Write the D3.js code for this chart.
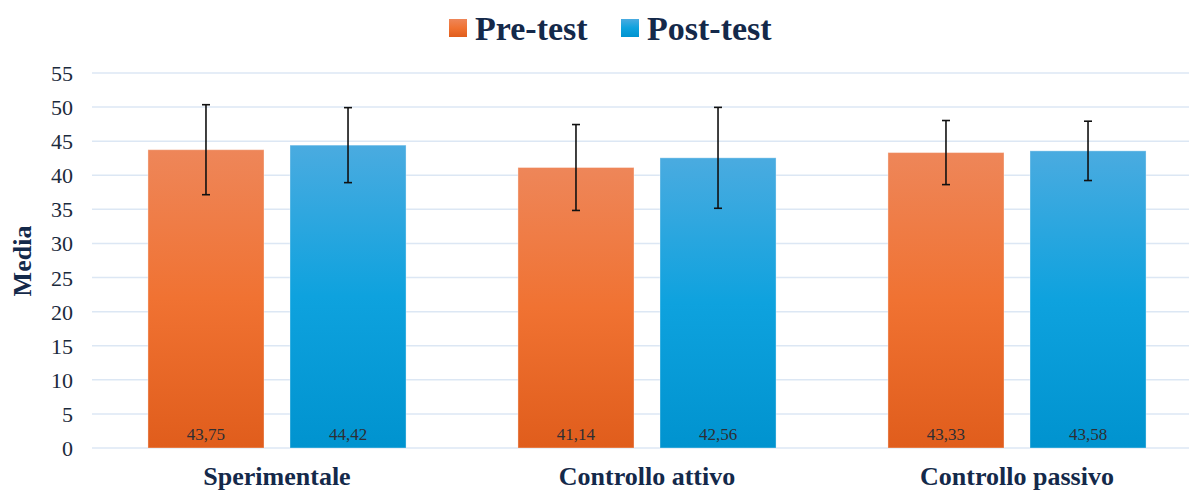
<!DOCTYPE html>
<html>
<head>
<meta charset="utf-8">
<script src="https://cdn.jsdelivr.net/npm/d3@7"></script>
<style>
  html, body { margin: 0; padding: 0; background: #fff; }
  svg { display: block; }
  svg text { font-family: "Liberation Serif", "Times New Roman", serif; }
</style>
</head>
<body>
<svg id="chart" width="1189" height="492"></svg>
<script>
// Data
const categories = ["Sperimentale", "Controllo attivo", "Controllo passivo"];
const series = ["Pre-test", "Post-test"];
const preMeans = [43.75, 41.14, 43.33];
const postMeans = [44.42, 42.56, 43.58];
const preSD = [6.6, 6.3, 4.7];
const postSD = [5.5, 7.4, 4.35];
const yTicks = [0, 5, 10, 15, 20, 25, 30, 35, 40, 45, 50, 55];

const W = 1189, H = 492;
const svg = d3.select("#chart");

// gradients for the two series
const defs = svg.append("defs");
const grads = [
  { id: "gPre", top: "#EE8659", mid: "#F07232", bot: "#E05D1C" },
  { id: "gPost", top: "#4AABE0", mid: "#0EA2DE", bot: "#0093CF" },
];
grads.forEach(g => {
  const lg = defs.append("linearGradient").attr("id", g.id)
    .attr("x1", 0).attr("y1", 0).attr("x2", 0).attr("y2", 1);
  lg.append("stop").attr("offset", "0%").attr("stop-color", g.top);
  lg.append("stop").attr("offset", "50%").attr("stop-color", g.mid);
  lg.append("stop").attr("offset", "100%").attr("stop-color", g.bot);
});

const y = d3.scaleLinear().domain([0, 55]).range([448, 73]);
const x0 = d3.scaleBand().domain(categories).range([92, 1202]);
const x1 = d3.scaleBand().domain(series).range([0, x0.bandwidth()])
  .paddingInner(0.183).paddingOuter(0.394);

// gridlines
svg.append("g")
  .selectAll("line")
  .data(yTicks)
  .join("line")
  .attr("x1", 92).attr("x2", W)
  .attr("y1", d => y(d)).attr("y2", d => y(d))
  .attr("stroke", "#DCE7F4")
  .attr("stroke-width", 1.5);

// y axis labels
const axisY = d3.axisLeft(y).tickValues(yTicks).tickSize(0).tickPadding(0);
svg.append("g")
  .attr("transform", "translate(73,0)")
  .call(axisY)
  .attr("font-family", null)
  .call(g => g.select(".domain").remove())
  .call(g => g.selectAll("text")
    .attr("font-size", 22)
    .attr("fill", "#1B2A3C")
    .attr("dy", "0.34em"));

// y title
svg.append("text")
  .attr("transform", "translate(31,261) rotate(-90)")
  .attr("text-anchor", "middle")
  .attr("font-size", 26)
  .attr("font-weight", "bold")
  .attr("fill", "#14294A")
  .text("Media");

// rows for bars
const rows = [];
categories.forEach((c, i) => {
  rows.push({ cat: c, s: series[0], v: preMeans[i], sd: preSD[i], fill: "url(#gPre)" });
  rows.push({ cat: c, s: series[1], v: postMeans[i], sd: postSD[i], fill: "url(#gPost)" });
});

const bars = svg.append("g");
bars.selectAll("rect")
  .data(rows)
  .join("rect")
  .attr("x", d => x0(d.cat) + x1(d.s))
  .attr("width", x1.bandwidth())
  .attr("y", d => y(d.v))
  .attr("height", d => y(0) - y(d.v))
  .attr("fill", d => d.fill)
  .attr("stroke", "#ffffff")
  .attr("stroke-opacity", 0.35)
  .attr("stroke-width", 1);

// value labels
bars.selectAll("text")
  .data(rows)
  .join("text")
  .attr("x", d => x0(d.cat) + x1(d.s) + x1.bandwidth() / 2)
  .attr("y", 440)
  .attr("text-anchor", "middle")
  .attr("font-size", 17)
  .attr("fill", "#2E2E33")
  .text(d => d3.format(".2f")(d.v).replace(".", ","));

// error bars
const err = svg.append("g")
  .attr("stroke", "#111")
  .attr("stroke-width", 1.6)
  .selectAll("g")
  .data(rows)
  .join("g")
  .attr("transform", d => `translate(${x0(d.cat) + x1(d.s) + x1.bandwidth() / 2},0)`);
err.append("line")
  .attr("y1", d => y(d.v + d.sd)).attr("y2", d => y(d.v - d.sd));
err.append("line")
  .attr("x1", -4).attr("x2", 4)
  .attr("y1", d => y(d.v + d.sd)).attr("y2", d => y(d.v + d.sd));
err.append("line")
  .attr("x1", -4).attr("x2", 4)
  .attr("y1", d => y(d.v - d.sd)).attr("y2", d => y(d.v - d.sd));

// category labels
svg.append("g")
  .selectAll("text")
  .data(categories)
  .join("text")
  .attr("x", d => x0(d) + x0.bandwidth() / 2)
  .attr("y", 485)
  .attr("text-anchor", "middle")
  .attr("font-size", 26)
  .attr("font-weight", "bold")
  .attr("fill", "#14294A")
  .text(d => d);

// legend
const legendItems = [
  { label: series[0], fill: "url(#gPre)", x: 449 },
  { label: series[1], fill: "url(#gPost)", x: 621 },
];
const lg = svg.append("g")
  .selectAll("g")
  .data(legendItems)
  .join("g")
  .attr("transform", d => `translate(${d.x},0)`);
lg.append("rect")
  .attr("x", 0).attr("y", 19).attr("width", 18).attr("height", 18)
  .attr("fill", d => d.fill);
lg.append("text")
  .attr("x", 26).attr("y", 40)
  .attr("font-size", 34)
  .attr("font-weight", "bold")
  .attr("fill", "#14294A")
  .text(d => d.label);
</script>
</body>
</html>
